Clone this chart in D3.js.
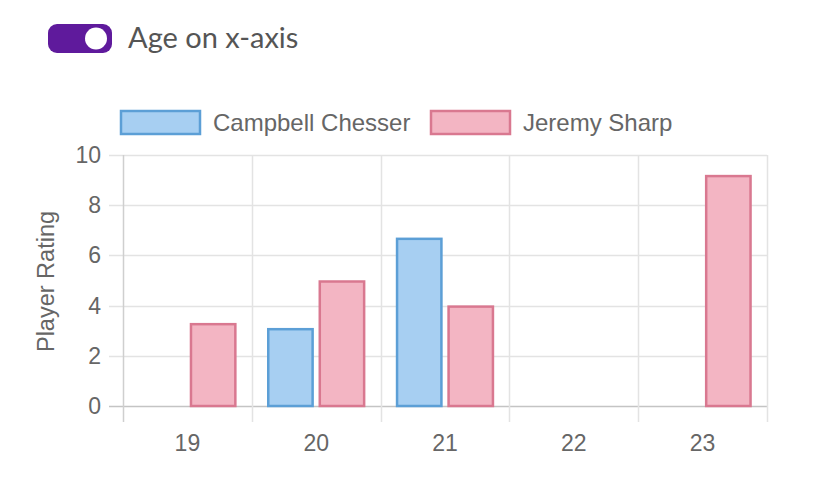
<!DOCTYPE html>
<html>
<head>
<meta charset="utf-8">
<script src="https://cdn.jsdelivr.net/npm/d3@7"></script>
<style>
  body { margin: 0; background: #fff; }
  svg { display: block; }
</style>
</head>
<body>
<div id="chart"></div>
<script>
// ages on the x axis
var ages = ["19", "20", "21", "22", "23"];
var playerNames = ["Campbell Chesser", "Jeremy Sharp"];
// null = no rating at that age
var campbellRatings = [null, 3.1, 6.7, null, null];
var jeremyRatings = [3.3, 5.0, 4.0, null, 9.2];
var yTicks = [0, 2, 4, 6, 8, 10];

var width = 828, height = 501;
var margin = {top: 155, right: 61, bottom: 95, left: 123};

var fills = ["#a7cff2", "#f3b5c3"];
var strokes = ["#5c9fd6", "#d97890"];
var labelFont = "23px 'Liberation Sans', Arial, sans-serif";

var svg = d3.select("#chart").append("svg")
    .attr("width", width)
    .attr("height", height);

// toggle switch on top
var toggle = svg.append("g");
toggle.append("rect")
    .attr("x", 48).attr("y", 24)
    .attr("width", 64).attr("height", 29)
    .attr("rx", 9)
    .attr("fill", "#5f1a9c");
toggle.append("circle")
    .attr("cx", 96).attr("cy", 38.5).attr("r", 11)
    .attr("fill", "#fff");
toggle.append("text")
    .attr("x", 128).attr("y", 48)
    .style("font", "29px Lato, 'Open Sans', sans-serif")
    .attr("fill", "#555")
    .text("Age on x-axis");

var x = d3.scaleBand()
    .domain(ages)
    .range([margin.left, width - margin.right]);

var y = d3.scaleLinear()
    .domain([0, 10])
    .range([height - margin.bottom, margin.top]);

// bars take 80% of the category, 90% of each half
var groupW = x.bandwidth() * 0.8;
var barW = groupW / 2 * 0.9;

var plotBottom = y(0);
var plotTop = y(10);

// horizontal grid
svg.append("g").selectAll("line")
    .data(yTicks)
    .join("line")
    .attr("x1", margin.left - 14)
    .attr("x2", width - margin.right)
    .attr("y1", d => Math.round(y(d)) + 0.5)
    .attr("y2", d => Math.round(y(d)) + 0.5)
    .attr("stroke", d => d === 0 ? "#c4c4c4" : "#e3e3e3")
    .attr("stroke-width", 1.5);

// vertical grid at category edges
var edges = ages.map(a => x(a)).concat([x.range()[1]]);
svg.append("g").selectAll("line")
    .data(edges)
    .join("line")
    .attr("x1", d => Math.round(d) + 0.5)
    .attr("x2", d => Math.round(d) + 0.5)
    .attr("y1", plotTop)
    .attr("y2", plotBottom + 16)
    .attr("stroke", (d, i) => i === 0 ? "#cfcfcf" : "#e3e3e3")
    .attr("stroke-width", 1.5);

// y tick labels
svg.append("g").selectAll("text")
    .data(yTicks)
    .join("text")
    .attr("x", margin.left - 22)
    .attr("y", d => y(d))
    .attr("dy", "0.35em")
    .attr("text-anchor", "end")
    .style("font", labelFont)
    .attr("fill", "#666")
    .text(d => d);

// x tick labels
svg.append("g").selectAll("text")
    .data(ages)
    .join("text")
    .attr("x", d => x(d) + x.bandwidth() / 2)
    .attr("y", plotBottom + 45)
    .attr("text-anchor", "middle")
    .style("font", labelFont)
    .attr("fill", "#666")
    .text(d => d);

// y axis title
svg.append("text")
    .attr("transform", "translate(54," + ((plotTop + plotBottom) / 2 + 1) + ") rotate(-90)")
    .attr("text-anchor", "middle")
    .style("font", "23.5px 'Liberation Sans', Arial, sans-serif")
    .attr("fill", "#666")
    .text("Player Rating");

// bars
var series = [campbellRatings, jeremyRatings];
series.forEach(function(values, si) {
    var pts = ages.map((a, i) => ({age: a, value: values[i]}))
        .filter(d => d.value != null);
    svg.append("g").selectAll("rect")
        .data(pts)
        .join("rect")
        .attr("x", d => x(d.age) + x.bandwidth() * 0.1 + si * groupW / 2 + (groupW / 2 - barW) / 2 + 1)
        .attr("y", d => y(d.value) + 1)
        .attr("width", barW - 2)
        .attr("height", d => plotBottom - y(d.value) - 1)
        .attr("fill", fills[si])
        .attr("stroke", strokes[si])
        .attr("stroke-width", 2.5);
});

// legend
var legendItems = [
    {name: playerNames[0], x: 120},
    {name: playerNames[1], x: 430}
];
var lg = svg.append("g").selectAll("g")
    .data(legendItems)
    .join("g");
lg.append("rect")
    .attr("x", d => d.x + 1)
    .attr("y", 111)
    .attr("width", 79)
    .attr("height", 23)
    .attr("fill", (d, i) => fills[i])
    .attr("stroke", (d, i) => strokes[i])
    .attr("stroke-width", 2.5);
lg.append("text")
    .attr("x", d => d.x + 93)
    .attr("y", 123)
    .attr("dy", "0.35em")
    .style("font", "24px 'Liberation Sans', Arial, sans-serif")
    .attr("fill", "#666")
    .text(d => d.name);
</script>
</body>
</html>
